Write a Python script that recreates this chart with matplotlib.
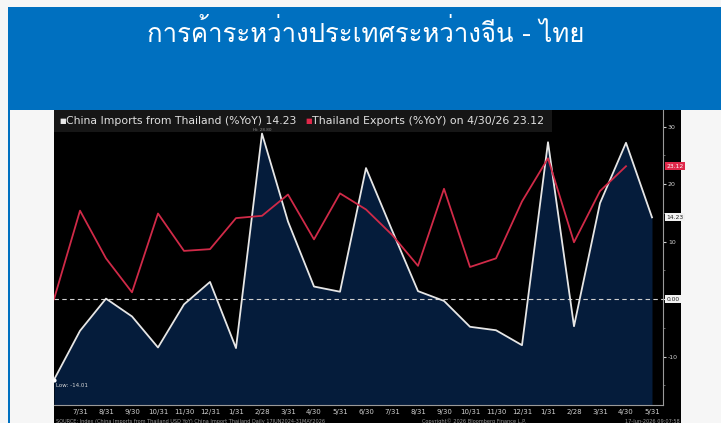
import matplotlib
matplotlib.use("Agg")
import matplotlib.pyplot as plt
import matplotlib.font_manager as fm
from matplotlib.patches import Rectangle
from matplotlib.ticker import FixedLocator
import numpy as np

# ---------------- data ----------------
months = ['6/30', '7/31', '8/31', '9/30', '10/31', '11/30', '12/31', '1/31', '2/28', '3/31',
          '4/30', '5/31', '6/30', '7/31', '8/31', '9/30', '10/31', '11/30', '12/31', '1/31',
          '2/28', '3/31', '4/30', '5/31']
china_imports = [-14.01, -5.5, 0.1, -3.0, -8.4, -0.9, 3.0, -8.5, 28.8, 13.5,
                 2.2, 1.3, 22.8, 12.0, 1.4, -0.3, -4.8, -5.4, -8.0, 27.3,
                 -4.7, 16.7, 27.2, 14.23]
thai_exports = [0.0, 15.4, 7.1, 1.2, 14.9, 8.4, 8.7, 14.1, 14.5, 18.2,
                10.4, 18.4, 15.6, 11.2, 5.8, 19.2, 5.6, 7.1, 17.0, 24.5,
                9.9, 18.8, 23.12]
y_major = [-10, 0, 10, 20, 30]
y_minor = [-15, -5, 5, 15, 25]
title = "การค้าระหว่างประเทศระหว่างจีน - ไทย"

# ---------------- fonts ----------------
thai_font = None
try:
    from fontTools.ttLib import TTFont
    for f in fm.fontManager.ttflist:
        try:
            kw = {"fontNumber": 0} if f.fname.lower().endswith(".ttc") else {}
            tt = TTFont(f.fname, lazy=True, **kw)
            cmap = tt.getBestCmap()
            if cmap and 0x0E01 in cmap and 0x0E32 in cmap:
                thai_font = f.name
                break
        except Exception:
            pass
except Exception:
    pass
title_family = [thai_font, 'DejaVu Sans'] if thai_font else ['DejaVu Sans']

W, H = 721, 423
fig = plt.figure(figsize=(W / 100, H / 100), dpi=100, facecolor='#f6f6f6')


def rect(x0, y0, x1, y1, z=0, **kw):
    r = Rectangle((x0 / W, 1 - y1 / H), (x1 - x0) / W, (y1 - y0) / H,
                  transform=fig.transFigure, zorder=z, **kw)
    fig.patches.append(r)
    return r


def fx(x):
    return x / W


def fy(y):
    return 1 - y / H


# header & borders
rect(8, 7, 721, 110, facecolor='#0070c0', edgecolor='none', z=-3)
rect(8, 110, 9.6, 423, facecolor='#0070c0', edgecolor='none', z=-3)
# black chart panel
rect(54, 110, 681, 423, facecolor='#000000', edgecolor='none', z=-2)
# legend band
rect(54, 110, 552, 132, facecolor='#161616', edgecolor='none', z=-1)

fig.text(fx(366), fy(42), title, color='white', fontsize=18.5, ha='center', va='baseline',
         family=title_family)

# ---------------- axes ----------------
ax = fig.add_axes([fx(54), fy(405), fx(663) - fx(54), fy(110) - fy(405)])
ax.set_zorder(5)
ax.patch.set_visible(False)
x_ci = np.arange(len(china_imports))
x_te = np.arange(len(thai_exports))

ax.fill_between(x_ci, china_imports, -40, color='#051c3b', zorder=1, linewidth=0)
ax.plot(x_ci, china_imports, color='#e6e6e6', lw=1.3, zorder=3)
ax.plot(x_te, thai_exports, color='#d02a48', lw=1.3, zorder=4)
ax.axhline(0, color='#cfcfcf', lw=0.8, ls=(0, (4, 3)), zorder=2)

ax.set_xlim(0, 23 + 11 / 26)
ax.set_ylim(-18.4, 32.9)

for s in ['top', 'left']:
    ax.spines[s].set_visible(False)
ax.spines['right'].set_color('#9a9a9a')
ax.spines['bottom'].set_color('#9a9a9a')
ax.spines['right'].set_linewidth(0.8)
ax.spines['bottom'].set_linewidth(0.8)

ax.set_xticks(x_ci[1:])
ax.set_xticklabels(months[1:])
ax.tick_params(axis='x', length=0, colors='#d0d0d0', labelsize=5, pad=3)

ax.yaxis.tick_right()
ax.set_yticks(y_major)
ax.set_yticklabels([str(v) if v != 0 else '' for v in y_major])
ax.yaxis.set_minor_locator(FixedLocator(y_minor))
ax.tick_params(axis='y', which='major', length=2, width=0.8, colors='#d0d0d0',
               labelsize=4.5, pad=1.5, direction='out')
ax.tick_params(axis='y', which='minor', length=1.5, width=0.6, colors='#777777')


# value boxes on the right axis
def value_box(val, text, fc, tc):
    ax.annotate(text, xy=(1.0, val), xycoords=('axes fraction', 'data'),
                xytext=(2.5, 0), textcoords='offset points', fontsize=4.3,
                color=tc, va='center', ha='left', annotation_clip=False,
                bbox=dict(boxstyle='square,pad=0.25', fc=fc, ec='none'))


value_box(thai_exports[-1], f"{thai_exports[-1]:.2f}", '#e0284a', '#ffffff')
value_box(china_imports[-1], f"{china_imports[-1]:.2f}", '#f2f2f2', '#222222')
value_box(0.0, "0.00", '#f2f2f2', '#222222')

# hi / low annotations
i_hi = int(np.argmax(china_imports))
i_lo = int(np.argmin(china_imports))
ax.annotate(f"Hi: {china_imports[i_hi]:.2f}", xy=(i_hi, china_imports[i_hi]),
            xytext=(0, 1.2), textcoords='offset points', fontsize=3.0, color='#8a8a8a',
            ha='center', va='bottom', annotation_clip=False)
ax.plot([i_lo], [china_imports[i_lo]], 'o', color='white', ms=2, zorder=5, clip_on=False)
ax.annotate(f"Low: {china_imports[i_lo]:.2f}", xy=(i_lo, china_imports[i_lo]),
            xytext=(1.5, -2.5), textcoords='offset points', fontsize=4, color='#d8d8d8',
            ha='left', va='top', annotation_clip=False)

# legend
fig.text(fx(59), fy(120.5), "\u25a0", color='#e8e8e8', fontsize=5, va='center', ha='left')
fig.text(fx(66), fy(120.5), f"China Imports from Thailand (%YoY) {china_imports[-1]:.2f}",
         color='#e0e0e0', fontsize=7.8, va='center', ha='left')
fig.text(fx(305), fy(120.5), "\u25a0", color='#e0284a', fontsize=5, va='center', ha='left')
fig.text(fx(312), fy(120.5), f"Thailand Exports (%YoY) on 4/30/26 {thai_exports[-1]:.2f}",
         color='#e0e0e0', fontsize=7.9, va='center', ha='left')

# source line
fig.text(fx(56), fy(421), "SOURCE: Index (China Imports from Thailand USD YoY) China Import Thailand Daily 17JUN2024-31MAY2026",
         color='#9a9a9a', fontsize=3.6, va='center', ha='left')
fig.text(fx(474), fy(421), "Copyright\u00a9 2026 Bloomberg Finance L.P.",
         color='#9a9a9a', fontsize=3.6, va='center', ha='center')
fig.text(fx(680), fy(421), "17-Jun-2026 09:07:58",
         color='#9a9a9a', fontsize=3.6, va='center', ha='right')

fig.savefig("out.png", dpi=100, facecolor=fig.get_facecolor())
